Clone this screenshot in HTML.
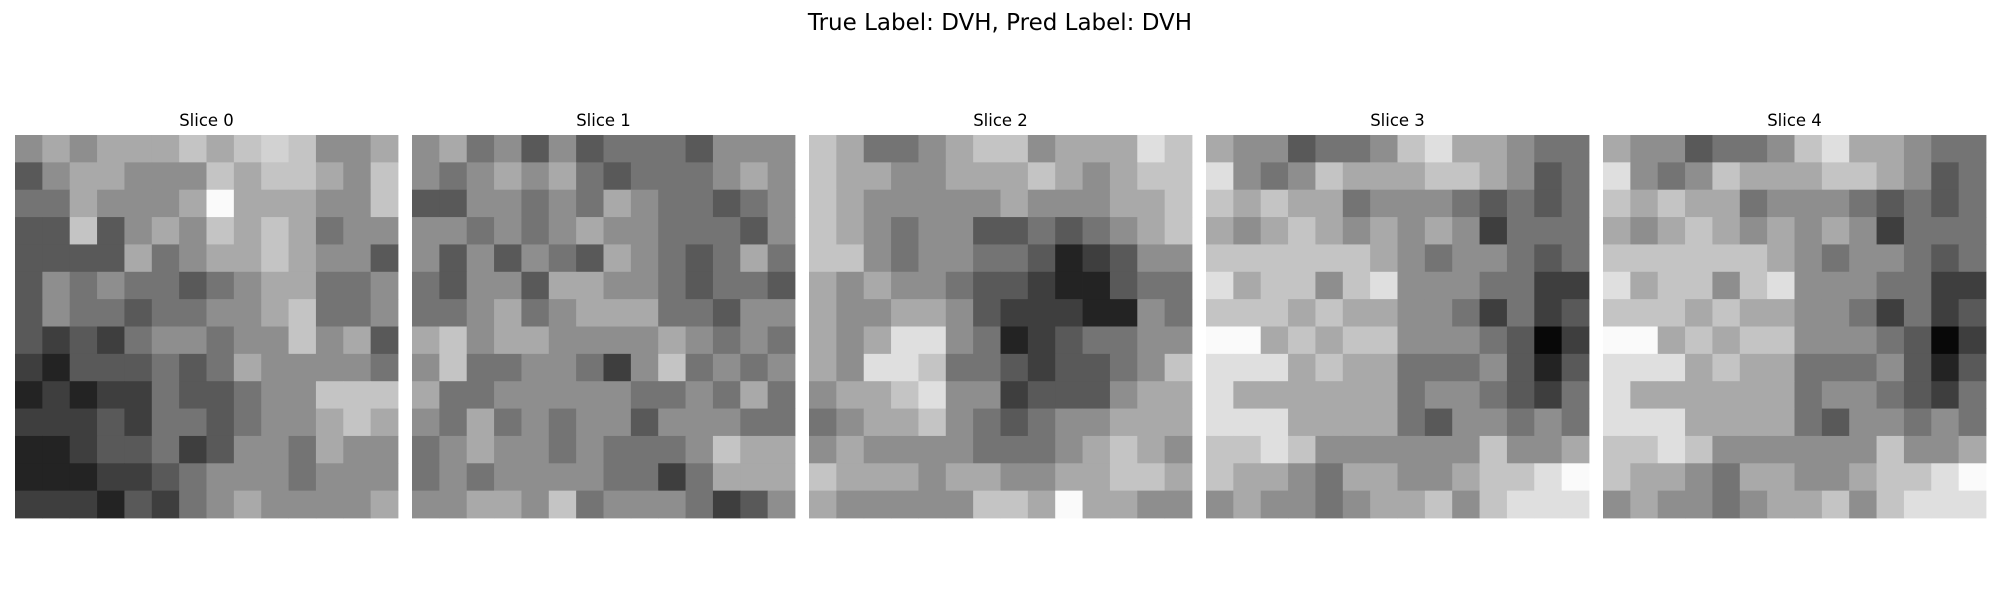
<!DOCTYPE html>
<html><head><meta charset="utf-8">
<style>
html,body{margin:0;padding:0;background:#fff;}
body{width:2000px;height:600px;overflow:hidden;font-family:"Liberation Sans","DejaVu Sans",sans-serif;}
</style></head>
<body>
<svg id="fig" width="2000" height="600" xmlns="http://www.w3.org/2000/svg">
<rect x="0" y="0" width="2000" height="600" fill="#fff"/>
<text x="1000" y="30" text-anchor="middle" font-size="23" font-family="DejaVu Sans, Liberation Sans, sans-serif" fill="#000">True Label: DVH, Pred Label: DVH</text>
</svg>
<script>
const sliceTitles = ["Slice 0","Slice 1","Slice 2","Slice 3","Slice 4"];
const slice0 = [
[5,6,5,6,6,6,7,6,7,7.5,7,5,5,6],
[3,5,6,6,5,5,5,7,6,7,7,6,5,7],
[4,4,6,5,5,5,6,9,6,6,6,5,5,7],
[3,3,7,3,5,6,5,7,6,7,6,4,5,5],
[3,3,3,3,6,4,5,6,6,7,6,5,5,3],
[3,5,4,5,4,4,3,4,5,6,6,4,4,5],
[3,5,4,4,3,4,4,5,5,6,7,4,4,5],
[3,2,3,2,4,5,5,4,5,5,7,5,6,3],
[2,1,3,3,3,4,3,4,6,5,5,5,5,4],
[1,2,1,2,2,4,3,3,4,5,5,7,7,7],
[2,2,2,3,2,4,4,3,4,5,5,6,7,6],
[1,1,2,3,3,4,2,3,5,5,4,6,5,5],
[1,1,1,2,2,3,4,5,5,5,4,5,5,5],
[2,2,2,1,3,2,4,5,6,5,5,5,5,6]];
const slice1 = [
[5,6,4,5,3,5,3,4,4,4,3,5,5,5],
[5,4,5,6,5,6,4,3,4,4,4,5,6,5],
[3,3,5,5,4,5,4,6,5,4,4,3,4,5],
[5,5,4,5,4,5,6,5,5,4,4,4,3,5],
[5,3,5,3,5,4,3,6,5,4,3,4,6,4],
[4,3,5,5,3,6,6,5,5,4,3,4,4,3],
[4,4,5,6,4,5,6,6,6,4,4,3,5,5],
[6,7,5,6,6,5,5,5,5,6,5,4,5,4],
[5,7,4,4,5,5,4,2,5,7,4,5,4,5],
[6,4,4,5,5,5,5,5,4,4,5,4,6,4],
[5,4,6,4,5,4,5,5,3,5,5,5,4,4],
[4,5,6,5,5,4,5,4,4,4,5,7,6,6],
[4,5,4,5,5,5,5,4,4,2,4,6,6,6],
[5,5,6,6,5,7,4,5,5,5,4,2,3,5]];
const slice2 = [
[7,6,4,4,5,6,7,7,5,6,6,6,8,7],
[7,6,6,5,5,6,6,6,7,6,5,6,7,7],
[7,6,5,5,5,5,5,6,5,5,5,6,6,7],
[7,6,5,4,5,5,3,3,4,3,4,5,6,7],
[7,7,5,4,5,5,4,4,3,1,2,3,5,5],
[6,5,6,5,5,4,3,3,2,1,1,3,4,4],
[6,5,5,6,6,5,3,2,2,2,1,1,5,4],
[6,5,6,8,8,5,4,1,2,3,4,4,5,5],
[6,5,8,8,7,4,4,3,2,3,3,4,5,7],
[5,6,6,7,8,5,5,2,3,3,3,5,6,6],
[4,5,6,6,7,5,4,3,4,5,5,6,6,6],
[5,6,5,5,5,5,4,4,4,5,6,7,6,5],
[7,6,6,6,5,6,6,5,5,6,6,7,7,6],
[6,5,5,5,5,5,7,7,6,9,6,6,5,5]];
const slice3 = [
[6,5,5,3,4,4,5,7,8,6,6,5,4,4],
[8,5,4,5,7,6,6,6,7,7,6,5,3,4],
[7,6,7,6,6,4,5,5,5,4,3,4,3,4],
[6,5,6,7,6,5,6,5,6,5,2,4,4,4],
[7,7,7,7,7,7,6,5,4,5,5,4,3,4],
[8,6,7,7,5,7,8,5,5,5,4,4,2,2],
[7,7,7,6,7,6,6,5,5,4,2,4,2,3],
[9,9,6,7,6,7,7,5,5,5,4,3,0,2],
[8,8,8,6,7,6,6,4,4,4,5,3,1,3],
[8,6,6,6,6,6,6,4,5,5,4,3,2,4],
[8,8,8,6,6,6,6,4,3,5,5,4,5,4],
[7,7,8,7,5,5,5,5,5,5,7,5,5,6],
[7,6,6,5,4,6,6,5,5,6,7,7,8,9],
[5,6,5,5,4,5,6,6,7,5,7,8,8,8]];
const slice4 = [
[6,5,5,3,4,4,5,7,8,6,6,5,4,4],
[8,5,4,5,7,6,6,6,7,7,6,5,3,4],
[7,6,7,6,6,4,5,5,5,4,3,4,3,4],
[6,5,6,7,6,5,6,5,6,5,2,4,4,4],
[7,7,7,7,7,7,6,5,4,5,5,4,3,4],
[8,6,7,7,5,7,8,5,5,5,4,4,2,2],
[7,7,7,6,7,6,6,5,5,4,2,4,2,3],
[9,9,6,7,6,7,7,5,5,5,4,3,0,2],
[8,8,8,6,7,6,6,4,4,4,5,3,1,3],
[8,6,6,6,6,6,6,4,5,5,4,3,2,4],
[8,8,8,6,6,6,6,4,3,5,5,4,5,4],
[7,7,8,7,5,5,5,5,5,5,7,5,5,6],
[7,6,6,5,4,6,6,5,5,6,7,7,8,9],
[5,6,5,5,4,5,6,6,7,5,7,8,8,8]];
const slices = [slice0, slice1, slice2, slice3, slice4];

const NS = "http://www.w3.org/2000/svg";
const svg = document.getElementById("fig");
const panelX0 = 15, panelStep = 397, panelY = 135, panelSize = 383;
const vmin = 0, vmax = 9;
function xScale(p, c, n){ return panelX0 + p*panelStep + c*panelSize/n; }
function yScale(r, n){ return panelY + r*panelSize/n; }
function gray(v){ const g = Math.round(8 + (v - vmin)/(vmax - vmin)*242); return "rgb("+g+","+g+","+g+")"; }

slices.forEach((data, p) => {
  const g = document.createElementNS(NS, "g");
  
  
  const n = data.length;
  data.forEach((row, r) => {
    row.forEach((v, c) => {
      const rect = document.createElementNS(NS, "rect");
      const x0 = xScale(p, c, n), x1 = xScale(p, c+1, n);
      const y0 = yScale(r, n), y1 = yScale(r+1, n);
      rect.setAttribute("x", x0.toFixed(2));
      rect.setAttribute("y", y0.toFixed(2));
      rect.setAttribute("width", (x1 - x0 + 0.4).toFixed(2));
      rect.setAttribute("height", (y1 - y0 + 0.4).toFixed(2));
      rect.setAttribute("fill", gray(v));
      
      
      g.appendChild(rect);
    });
  });
  svg.appendChild(g);
  const t = document.createElementNS(NS, "text");
  t.setAttribute("x", (panelX0 + p*panelStep + panelSize/2).toFixed(1));
  t.setAttribute("y", "126");
  t.setAttribute("text-anchor", "middle");
  t.setAttribute("font-size", "16.5");
  t.setAttribute("font-family", "DejaVu Sans, Liberation Sans, sans-serif");
  t.textContent = sliceTitles[p];
  
  
  svg.appendChild(t);
});
</script>
</body></html>
